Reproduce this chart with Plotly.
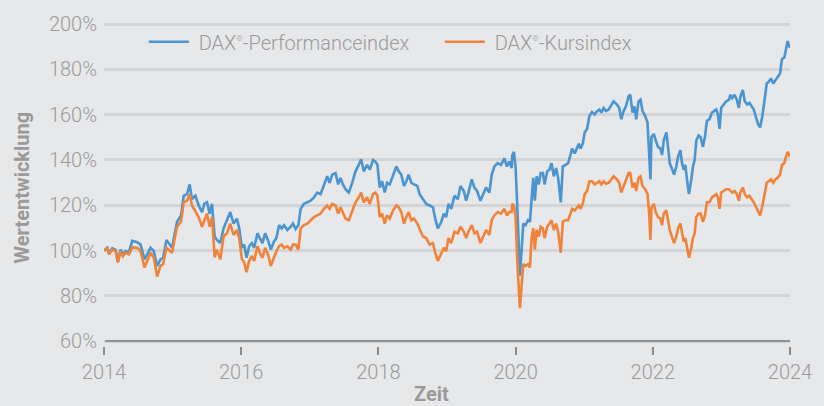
import plotly.graph_objects as go

years = [
    2014.000, 2014.048, 2014.073, 2014.121, 2014.169, 2014.203, 2014.242, 2014.276, 2014.315, 2014.363,
    2014.412, 2014.484, 2014.533, 2014.591, 2014.630, 2014.678, 2014.726, 2014.775, 2014.823, 2014.862,
    2014.910, 2014.944, 2014.993, 2015.027, 2015.065, 2015.123, 2015.162, 2015.211, 2015.249, 2015.283,
    2015.332, 2015.380, 2015.429, 2015.462, 2015.501, 2015.540, 2015.574, 2015.613, 2015.646, 2015.695,
    2015.743, 2015.792, 2015.840, 2015.889, 2015.937,
    2015.971, 2016.010, 2016.044, 2016.078, 2016.116, 2016.155, 2016.189, 2016.237, 2016.271, 2016.310,
    2016.349, 2016.397, 2016.431, 2016.479, 2016.513, 2016.552, 2016.591, 2016.625, 2016.673, 2016.722,
    2016.755, 2016.794, 2016.833, 2016.867, 2016.915, 2016.964, 2017.012, 2017.061, 2017.109, 2017.157,
    2017.206, 2017.254, 2017.288, 2017.327, 2017.375, 2017.414, 2017.448, 2017.482, 2017.521, 2017.569,
    2017.618, 2017.666, 2017.714, 2017.748, 2017.787, 2017.835, 2017.874, 2017.922, 2017.956,
    2017.986, 2018.020, 2018.054, 2018.092, 2018.126, 2018.165, 2018.213, 2018.262, 2018.296, 2018.334,
    2018.373, 2018.407, 2018.441, 2018.480, 2018.518, 2018.567, 2018.601, 2018.649, 2018.698, 2018.746,
    2018.795, 2018.828, 2018.867, 2018.916, 2018.954, 2018.988, 2019.022, 2019.061, 2019.109, 2019.158,
    2019.196, 2019.245, 2019.279, 2019.313, 2019.361, 2019.400, 2019.439, 2019.487, 2019.521, 2019.569,
    2019.618, 2019.652, 2019.690, 2019.739, 2019.787, 2019.836, 2019.874, 2019.908, 2019.942,
    2019.952, 2019.976, 2020.000, 2020.025, 2020.049, 2020.063, 2020.088, 2020.112, 2020.146, 2020.180,
    2020.209, 2020.233, 2020.257, 2020.281, 2020.306, 2020.339, 2020.364, 2020.398, 2020.422, 2020.461,
    2020.494, 2020.523, 2020.557, 2020.591, 2020.620, 2020.659, 2020.688, 2020.727, 2020.766, 2020.799,
    2020.824, 2020.862, 2020.896, 2020.921, 2020.945, 2020.979, 2021.008, 2021.042, 2021.076, 2021.114,
    2021.153, 2021.187, 2021.221, 2021.250, 2021.284, 2021.318, 2021.356, 2021.395, 2021.429, 2021.477,
    2021.511, 2021.540, 2021.574, 2021.608, 2021.647, 2021.671, 2021.705, 2021.734, 2021.758, 2021.792,
    2021.821, 2021.850, 2021.889, 2021.923, 2021.947, 2021.966,
    2021.980, 2022.014, 2022.043, 2022.077, 2022.111, 2022.135, 2022.159, 2022.198, 2022.222, 2022.247,
    2022.285, 2022.310, 2022.343, 2022.368, 2022.402, 2022.426, 2022.450, 2022.474, 2022.498, 2022.527,
    2022.561, 2022.586, 2022.610, 2022.634, 2022.668, 2022.697, 2022.731, 2022.760, 2022.789, 2022.828,
    2022.862, 2022.891, 2022.925, 2022.949, 2022.973, 2022.997, 2023.031, 2023.070, 2023.109, 2023.133,
    2023.157, 2023.191, 2023.225, 2023.254, 2023.278, 2023.312, 2023.341, 2023.375, 2023.409, 2023.438,
    2023.472, 2023.506, 2023.535, 2023.564, 2023.593, 2023.627, 2023.661, 2023.690, 2023.724, 2023.757,
    2023.786, 2023.820, 2023.854, 2023.883, 2023.917, 2023.941, 2023.966, 2023.985, 2024.000,
]

performance = [
    100.0, 101.2, 98.8, 101.0, 100.3, 95.3, 100.4, 98.3, 99.8, 99.2,
    104.3, 103.7, 102.6, 96.1, 98.3, 101.2, 99.7, 93.2, 96.1, 96.8,
    104.7, 103.3, 101.2, 106.9, 112.7, 115.5, 124.2, 124.9, 129.2, 122.7,
    124.2, 119.9, 117.0, 120.6, 121.3, 116.3, 120.6, 106.2, 104.7, 103.3,
    109.8, 113.4, 117.0, 111.9, 114.1,
    109.8, 101.2, 102.6, 96.8, 101.9, 103.3, 101.2, 107.6, 105.5, 103.3,
    107.6, 104.0, 100.4, 104.0, 105.5, 111.2, 109.8, 111.2, 109.1, 110.5,
    111.9, 109.5, 111.2, 118.4, 120.6, 121.3, 122.0, 123.5, 125.6, 124.9,
    128.5, 132.8, 129.9, 133.5, 134.2, 129.2, 132.1, 129.2, 127.1, 125.6,
    129.9, 135.0, 137.8, 140.3, 135.0, 137.8, 135.7, 140.0, 139.3,
    137.8, 127.8, 130.6, 125.6, 129.9, 129.2, 132.8, 137.1, 135.0, 133.5,
    128.5, 130.6, 133.5, 129.9, 129.2, 128.5, 124.9, 122.7, 120.6, 119.9,
    119.1, 114.1, 109.8, 112.6, 116.3, 114.8, 120.6, 118.4, 124.2, 122.7,
    128.5, 126.3, 122.0, 125.6, 131.4, 127.8, 126.3, 122.0, 124.2, 127.8,
    125.6, 133.5, 137.1, 138.6, 137.8, 140.7, 137.1, 139.3, 136.4,
    142.2, 143.6, 136.4, 119.1, 103.3, 88.9, 100.4, 111.9, 111.2, 113.4,
    112.7, 123.5, 132.1, 122.0, 132.8, 129.2, 134.2, 134.2, 129.2, 135.0,
    135.7, 138.6, 132.8, 136.4, 132.1, 121.3, 137.1, 137.8, 138.6, 142.2,
    145.0, 142.9, 145.0, 147.2, 145.0, 147.2, 152.2, 153.7, 159.4, 161.2,
    160.1, 161.6, 162.3, 160.9, 163.0, 161.6, 162.3, 164.5, 165.9, 164.5,
    163.0, 158.0, 161.6, 163.7, 168.1, 168.8, 160.9, 163.7, 158.0, 165.9,
    166.6, 161.6, 159.4, 156.5, 143.6, 131.4,
    150.1, 151.5, 148.6, 145.8, 145.0, 142.2, 148.6, 152.2, 145.8, 138.6,
    135.7, 133.5, 137.1, 141.4, 144.3, 138.6, 135.7, 137.8, 131.4, 124.9,
    131.4, 137.1, 140.0, 148.6, 150.8, 150.1, 145.8, 150.1, 157.3, 158.0,
    160.9, 161.6, 162.3, 160.1, 153.7, 163.0, 164.5, 165.9, 166.6, 168.8,
    167.3, 168.8, 166.6, 163.0, 168.1, 170.9, 165.9, 164.5, 165.2, 163.7,
    162.3, 158.7, 155.8, 154.4, 158.7, 165.9, 173.8, 174.5, 176.0, 173.8,
    175.3, 176.7, 178.1, 184.6, 185.3, 188.9, 192.5, 190.4, 189.6,
]

kurs = [
    100.0, 100.9, 98.3, 100.4, 99.7, 94.7, 99.7, 97.5, 99.0, 98.3,
    101.4, 101.2, 99.7, 92.5, 95.4, 99.0, 96.8, 88.5, 93.2, 94.0,
    101.2, 100.4, 99.0, 104.7, 110.5, 112.7, 121.3, 122.0, 124.9, 119.9,
    117.0, 114.8, 110.5, 113.4, 116.3, 110.5, 114.8, 97.1, 100.4, 96.1,
    106.2, 107.6, 111.9, 106.9, 109.1,
    105.5, 96.1, 94.7, 90.4, 95.4, 97.6, 95.4, 101.9, 99.0, 96.8,
    101.2, 97.6, 93.2, 97.6, 99.7, 101.9, 102.6, 101.2, 101.9, 100.4,
    102.6, 102.6, 100.4, 109.8, 111.2, 111.9, 113.4, 114.8, 115.5, 116.3,
    118.4, 119.9, 118.4, 120.6, 119.9, 116.3, 119.1, 117.0, 114.1, 113.4,
    117.0, 121.3, 123.5, 125.6, 121.3, 123.5, 120.6, 124.9, 125.6,
    124.2, 114.8, 116.3, 111.9, 115.5, 114.1, 117.7, 119.9, 119.1, 117.0,
    111.9, 114.8, 117.0, 113.4, 114.1, 111.9, 109.8, 106.2, 105.5, 102.6,
    103.3, 99.0, 95.4, 98.3, 101.2, 99.7, 105.5, 103.3, 108.3, 107.6,
    110.5, 108.3, 105.5, 108.3, 111.2, 107.6, 108.3, 103.3, 105.5, 109.1,
    106.9, 113.4, 115.5, 117.0, 116.3, 118.4, 115.5, 117.0, 117.0,
    120.6, 119.9, 114.8, 94.7, 83.2, 74.5, 84.6, 94.0, 93.2, 94.0,
    92.5, 105.5, 109.8, 100.4, 109.1, 106.2, 110.5, 109.8, 105.5, 110.5,
    111.9, 113.4, 109.1, 111.9, 108.3, 99.0, 112.7, 113.4, 113.4, 116.3,
    118.4, 117.7, 119.1, 119.9, 118.4, 120.6, 124.9, 126.3, 130.6, 130.6,
    129.2, 129.9, 130.6, 129.2, 130.6, 129.5, 129.9, 131.4, 132.8, 131.4,
    129.9, 125.6, 128.5, 131.4, 134.2, 134.2, 127.8, 129.9, 126.3, 132.1,
    132.8, 128.5, 127.1, 124.9, 116.3, 104.7,
    119.1, 120.6, 117.0, 114.8, 114.1, 111.2, 116.3, 117.7, 114.1, 109.1,
    105.5, 103.3, 106.2, 109.8, 112.0, 106.9, 104.0, 105.5, 101.2, 96.8,
    101.2, 105.5, 107.6, 114.8, 116.3, 116.3, 112.7, 115.5, 121.3, 121.3,
    123.5, 124.2, 124.9, 123.5, 118.4, 125.6, 126.3, 127.1, 127.1, 126.3,
    125.6, 126.3, 124.9, 122.0, 125.6, 127.8, 124.9, 123.5, 124.2, 122.7,
    121.3, 119.1, 117.0, 115.5, 119.1, 124.2, 129.9, 130.6, 131.4, 129.9,
    131.4, 132.1, 133.5, 137.8, 138.6, 141.4, 143.6, 142.2, 141.4,
]

series_names = [
    " DAX<sup><span style='font-size:8px'>®</span></sup>-Performanceindex",
    " DAX<sup><span style='font-size:8px'>®</span></sup>-Kursindex",
]
y_ticks = [60, 80, 100, 120, 140, 160, 180, 200]
y_tick_labels = [f"{v}%" for v in y_ticks]
x_ticks = [2014, 2016, 2018, 2020, 2022, 2024]
x_tick_labels = [str(v) for v in x_ticks]

BG = "#e7e8ea"
GRID = "#d3d4d6"
TEXT = "#9a9a9a"
FONT = "Roboto"

fig = go.Figure()
fig.add_trace(go.Scatter(x=years, y=performance, mode="lines", name=series_names[0],
                         line=dict(color="#4a94d0", width=2.6)))
fig.add_trace(go.Scatter(x=years, y=kurs, mode="lines", name=series_names[1],
                         line=dict(color="#f0833a", width=2.6)))

fig.update_layout(
    width=824, height=406,
    paper_bgcolor=BG, plot_bgcolor=BG,
    margin=dict(l=104, r=31, t=17, b=60),
    font=dict(family=FONT, color=TEXT, size=20, weight=300),
    showlegend=True,
    legend=dict(orientation="h", x=0.058, y=0.942, xanchor="left", yanchor="middle",
                bgcolor="rgba(0,0,0,0)", font=dict(size=20, color=TEXT, family=FONT, weight=300),
                entrywidth=241, entrywidthmode="pixels", itemwidth=40),
    xaxis=dict(range=[2014, 2024], tickmode="array", tickvals=x_ticks, ticktext=x_tick_labels,
               showgrid=False, zeroline=False, showline=False,
               ticks="outside", ticklen=8, tickwidth=1.5, tickcolor="#8c8c8c",
               tickfont=dict(size=20, color=TEXT, family=FONT, weight=300)),
    yaxis=dict(range=[57.83, 200.5], tickmode="array", tickvals=y_ticks, ticktext=y_tick_labels,
               showgrid=True, gridcolor=GRID, gridwidth=2.5, zeroline=False, showline=False,
               ticks="", ticklabelstandoff=6,
               tickfont=dict(size=20, color=TEXT, family=FONT, weight=300)),
    shapes=[dict(type="line", xref="x", yref="y", x0=2014.02, x1=2024, y0=60, y1=60,
                 line=dict(color="#8f9092", width=2), layer="above")],
    annotations=[
        dict(text="<b>Wertentwicklung</b>", xref="paper", yref="paper", x=-0.12, y=0.49,
             xanchor="center", yanchor="middle", textangle=-90, showarrow=False,
             font=dict(size=20, color=TEXT, family=FONT)),
        dict(text="<b>Zeit</b>", xref="paper", yref="paper", x=0.477, y=-0.15,
             xanchor="center", yanchor="middle", showarrow=False,
             font=dict(size=20, color=TEXT, family=FONT)),
    ],
)

fig.write_html("out.html", config={"displayModeBar": False},
               post_script="document.body.style.margin='0';")
